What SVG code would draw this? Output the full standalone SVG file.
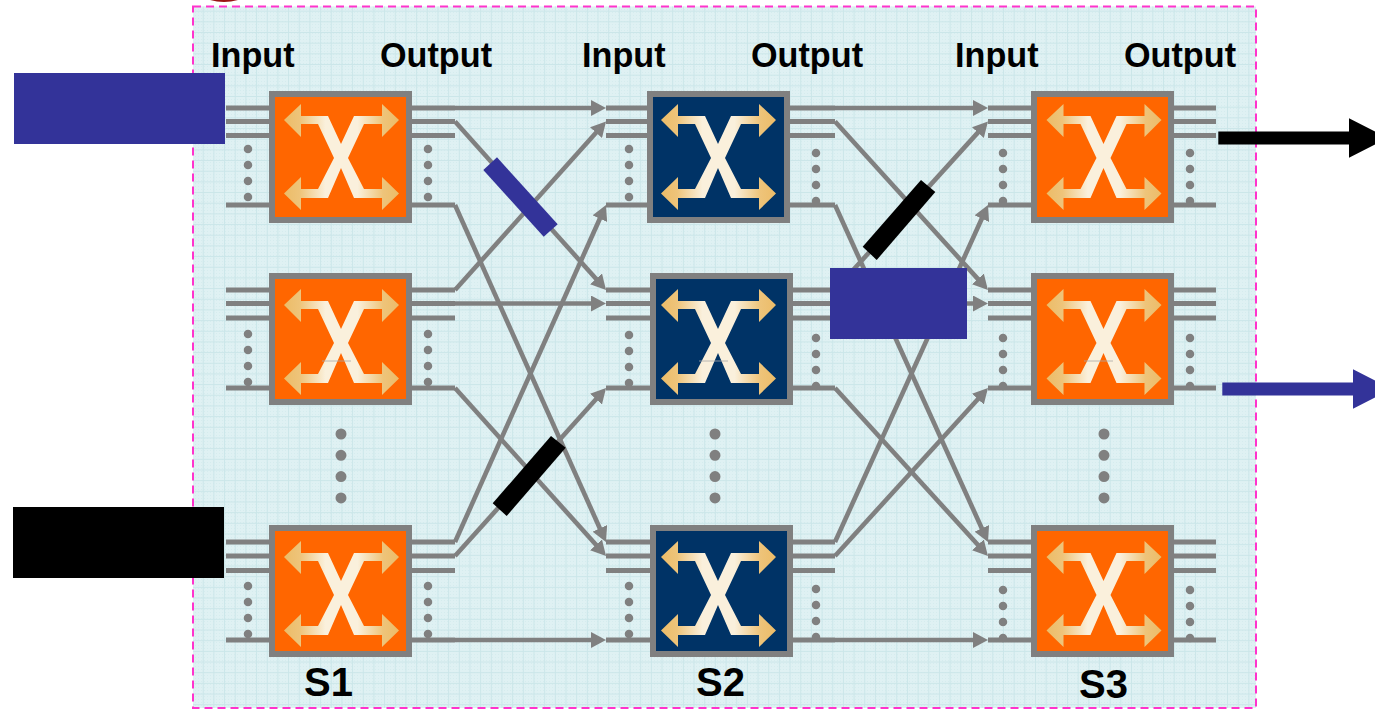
<svg xmlns="http://www.w3.org/2000/svg" xmlns:xlink="http://www.w3.org/1999/xlink" width="1375" height="709" viewBox="0 0 1375 709">
<style>
text{font-family:"Liberation Sans",Arial,sans-serif;font-weight:700;fill:#000}
.lbl{font-size:34.2px}
.stage{font-size:40px}
.bo{fill:#ff6600;stroke:#808080;stroke-width:6}
.bn{fill:#003366;stroke:#808080;stroke-width:6}
.stub{fill:none;stroke:#808080;stroke-width:5}
.dots{fill:none;stroke:#808080;stroke-width:8.5;stroke-linecap:round;stroke-dasharray:0 16}
.vdots{fill:none;stroke:#808080;stroke-width:11;stroke-linecap:round;stroke-dasharray:0 21.3}
.conn{fill:none;stroke:#808080;stroke-width:4.6;marker-end:url(#ah)}
.seam{stroke:#a8a8a8;stroke-width:.8}
.blue{fill:#333399}
.blk{fill:#000}
</style>
<defs>
<pattern id="fine" width="3" height="3" patternUnits="userSpaceOnUse"><rect width="3" height="3" fill="#dff1f3"/><rect width="1" height="1" fill="#d5ecee"/></pattern>
<pattern id="grid" width="10.67" height="10.67" patternUnits="userSpaceOnUse"><path d="M0 .5H10.67M.5 0V10.67" fill="none" stroke="#cbe6e9" stroke-width="1"/></pattern>
<linearGradient id="xg"><stop offset="0" stop-color="#ecbc68"/><stop offset=".14" stop-color="#eec47a"/><stop offset=".36" stop-color="#faf0dc"/><stop offset=".64" stop-color="#faf0dc"/><stop offset=".86" stop-color="#eec47a"/><stop offset="1" stop-color="#ecbc68"/></linearGradient>
<polygon id="xglyph" fill="url(#xg)" points="15,32 32,16 32,28 59,28 72,56 85,28 113,28 113,16 130,32 113,49 113,36 95,36 79,70 95,101 113,101 113,89 130,105.5 113,122 113,110 85,110 72,80 59,110 32,110 32,122 15,105.5 32,89 32,101 49,101 65,70 49,36 32,36 32,49"/>
<marker id="ah" markerUnits="userSpaceOnUse" markerWidth="15" markerHeight="16" viewBox="0 0 15 16" refX="7" refY="8" orient="auto"><path d="M0 0L15 8L0 16Z" fill="#808080"/></marker>
</defs>

<path d="M210 0Q224 4 238 0Z" fill="#9a1414"/>
<g id="frame">
<rect x="193" y="6.5" width="1063" height="701.5" fill="url(#fine)"/>
<rect x="193" y="6.5" width="1063" height="701.5" fill="url(#grid)"/>
<rect x="193" y="6.5" width="1063" height="701.5" fill="none" stroke="#ff33cc" stroke-width="2" stroke-dasharray="8 5"/>
</g>

<g id="labels">
<text class="lbl" x="211" y="67">Input</text>
<text class="lbl" x="380" y="67">Output</text>
<text class="lbl" x="582" y="67">Input</text>
<text class="lbl" x="751" y="67">Output</text>
<text class="lbl" x="955" y="67">Input</text>
<text class="lbl" x="1124" y="67">Output</text>
<text class="stage" x="304" y="696">S1</text>
<text class="stage" x="696" y="696">S2</text>
<text class="stage" x="1079" y="698">S3</text>
</g>

<g id="connectors">
<path class="conn" d="M455 108H598"/>
<path class="conn" d="M455 121.5L600.7 284"/>
<path class="conn" d="M455 205L602.7 534.7"/>
<path class="conn" d="M455 290L600.7 127.5"/>
<path class="conn" d="M455 303.5H598"/>
<path class="conn" d="M455 388L600.7 550"/>
<path class="conn" d="M455 542L602.7 212.3"/>
<path class="conn" d="M455 556L600.7 394"/>
<path class="conn" d="M455 640H598"/>
<path class="conn" d="M835 108H980"/>
<path class="conn" d="M835 121.5L982.6 284.1"/>
<path class="conn" d="M835 205L984.7 534.7"/>
<path class="conn" d="M835 290L982.6 127.4"/>
<path class="conn" d="M835 303.5H980"/>
<path class="conn" d="M835 388L982.6 550"/>
<path class="conn" d="M835 542L984.7 212.3"/>
<path class="conn" d="M835 556L982.6 394"/>
<path class="conn" d="M835 640H980"/>
</g>

<g id="s1-r1">
<path class="stub" d="M226 108H269M226 121.5H269M226 135.5H269M226 205H269M412 108H455M412 121.5H455M412 135.5H455M412 205H455"/>
<path class="dots" d="M248 149V198M428 149V198"/>
<rect class="bo" x="272" y="94" width="137" height="126"/>
<use href="#xglyph" transform="translate(269 88)"/>
</g>
<g id="s1-r2">
<path class="stub" d="M226 290H269M226 303.5H269M226 318H269M226 388H269M412 290H455M412 303.5H455M412 318H455M412 388H455"/>
<path class="dots" d="M248 334V383M428 334V383"/>
<rect class="bo" x="272" y="276" width="137" height="126"/>
<use href="#xglyph" transform="translate(269 273)"/>
<path class="seam" d="M322 361H351"/>
</g>
<g id="s1-r3">
<path class="stub" d="M226 542H269M226 556H269M226 570.5H269M226 640H269M412 542H455M412 556H455M412 570.5H455M412 640H455"/>
<path class="dots" d="M248 586V635M428 586V635"/>
<rect class="bo" x="272" y="528" width="137" height="126"/>
<use href="#xglyph" transform="translate(269 525)"/>
</g>
<path class="vdots" d="M341 434V499"/>

<g id="s2-r1">
<path class="stub" d="M606 108H648M606 121.5H648M606 135.5H648M606 205H648M790 108H835M790 121.5H835M790 135.5H835M790 205H835"/>
<path class="dots" d="M629 149V198M816 153V202"/>
<rect class="bn" x="650" y="94" width="137" height="126"/>
<use href="#xglyph" transform="translate(646 88)"/>
</g>
<g id="s2-r2">
<path class="stub" d="M606 290H650M606 303.5H650M606 318H650M606 388H650M792 290H835M792 303.5H835M792 318H835M792 388H835"/>
<path class="dots" d="M629 335V384M816 338V387"/>
<rect class="bn" x="653" y="276" width="137" height="126"/>
<use href="#xglyph" transform="translate(646 273)"/>
<path class="seam" d="M699 361H728"/>
</g>
<g id="s2-r3">
<path class="stub" d="M606 542H650M606 556H650M606 570.5H650M606 640H650M792 542H835M792 556H835M792 570.5H835M792 640H835"/>
<path class="dots" d="M629 586V635M816 589V638"/>
<rect class="bn" x="653" y="528" width="137" height="126"/>
<use href="#xglyph" transform="translate(646 525)"/>
</g>
<path class="vdots" d="M715 434V499"/>

<g id="s3-r1">
<path class="stub" d="M988 108H1031M988 121.5H1031M988 135.5H1031M988 205H1031M1174 108H1216M1174 121.5H1216M1174 135.5H1216M1174 205H1216"/>
<path class="dots" d="M1003 153V202M1190 153V202"/>
<rect class="bo" x="1034" y="94" width="137" height="126"/>
<use href="#xglyph" transform="translate(1031.5 88)"/>
</g>
<g id="s3-r2">
<path class="stub" d="M988 290H1031M988 303.5H1031M988 318H1031M988 388H1031M1174 290H1216M1174 303.5H1216M1174 318H1216M1174 388H1216"/>
<path class="dots" d="M1003 338V387M1190 338V387"/>
<rect class="bo" x="1034" y="276" width="137" height="126"/>
<use href="#xglyph" transform="translate(1031.5 273)"/>
<path class="seam" d="M1084 361H1113"/>
</g>
<g id="s3-r3">
<path class="stub" d="M988 542H1031M988 556H1031M988 570.5H1031M988 640H1031M1174 542H1216M1174 556H1216M1174 570.5H1216M1174 640H1216"/>
<path class="dots" d="M1003 590V639M1190 590V639"/>
<rect class="bo" x="1034" y="528" width="137" height="126"/>
<use href="#xglyph" transform="translate(1031.5 525)"/>
</g>
<path class="vdots" d="M1104 434V499"/>

<g id="blocks">
<rect id="block-in-blue" class="blue" x="14" y="73" width="211" height="71"/>
<rect id="block-in-black" class="blk" x="13" y="507" width="211" height="71"/>
<rect id="block-mid-blue" class="blue" x="830" y="268" width="137" height="71"/>
<polygon id="bar-blue" class="blue" points="483.3,170 497,157.3 557.7,224.3 543.7,236.7"/>
<polygon id="bar-black-1" class="blk" points="492.7,503.3 551,436 565.7,447.7 506.7,516"/>
<polygon id="bar-black-2" class="blk" points="862.7,246.7 921,180 935.3,192 876.7,260"/>
</g>
<g id="outputs">
<polygon class="blk" points="1218.3,131.5 1349,131.5 1349,118.3 1388,138 1349,157.7 1349,144.5 1218.3,144.5"/>
<polygon class="blue" points="1222.3,382.5 1353,382.5 1353,369.3 1392,389 1353,408.7 1353,395.5 1222.3,395.5"/>
</g>
</svg>
